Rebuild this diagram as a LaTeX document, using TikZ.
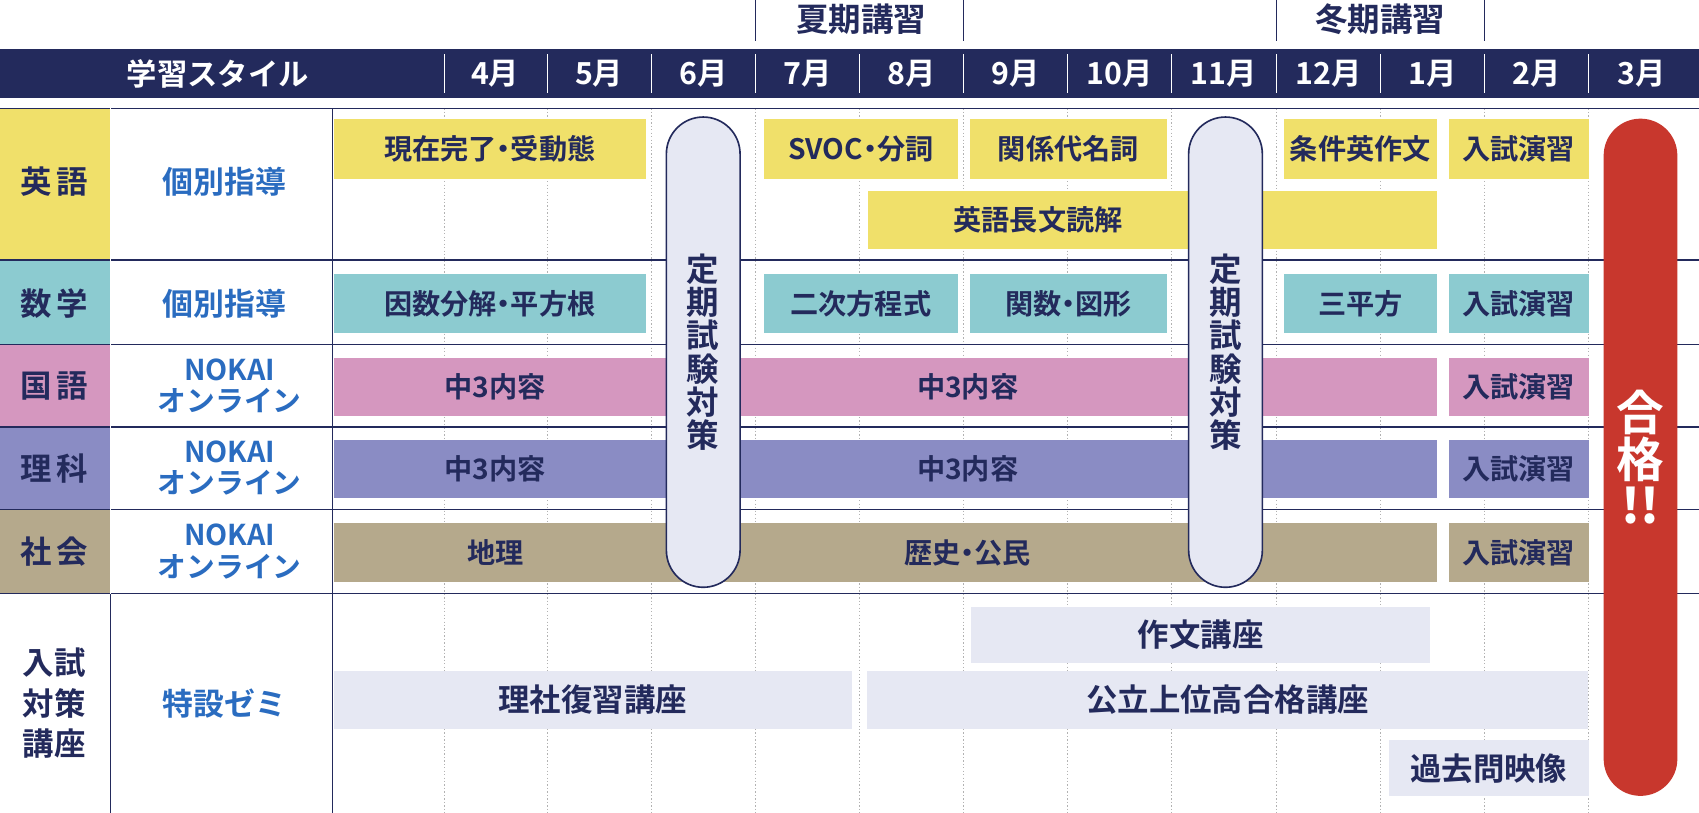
\documentclass[tikz,border=0pt]{standalone}
\usepackage{fontspec}
\setmainfont{Noto Sans CJK JP}[BoldFont={Noto Sans CJK JP Bold}]
\begin{document}
\definecolor{navy}{HTML}{232A5C}
\definecolor{eng}{HTML}{F0E06A}
\definecolor{math}{HTML}{8CCBD0}
\definecolor{jpn}{HTML}{D597BF}
\definecolor{sci}{HTML}{8A8CC4}
\definecolor{soc}{HTML}{B5A98C}
\definecolor{lav}{HTML}{E6E8F3}
\definecolor{blu}{HTML}{2A6CC0}
\definecolor{red}{HTML}{C8372D}
\newcommand\dt{\kern-0.25em・\kern-0.25em}
\newcommand\mybar[7]{\node[bar,fill=#6,minimum width=#3pt-#2pt,minimum height=#5pt-#4pt] (#1) at ({(#2+#3)/2},{(#4+#5)/2}) {#7};}
\begin{tikzpicture}[x=1pt,y=-1pt,
  bar/.style={draw=none,inner sep=0,font=\bfseries\fontsize{26}{28}\selectfont,text=navy},
  ex/.style={bar,font=\bfseries\fontsize{29}{31}\selectfont},
  lbl/.style={font=\bfseries\fontsize{26}{28}\selectfont,text=navy,inner sep=0},
  top/.style={font=\bfseries\fontsize{30}{32}\selectfont,text=navy,inner sep=0},
  sub/.style={font=\bfseries\fontsize{29}{37.5}\selectfont,text=navy,align=center,inner sep=0},
  sty/.style={font=\bfseries\fontsize{28.5}{29}\selectfont,text=blu,align=center,inner sep=0},
  sty2/.style={font=\bfseries\fontsize{26.5}{29}\selectfont,text=blu,align=center,inner sep=0},
  hd/.style={font=\bfseries\fontsize{28}{30}\selectfont,text=white,inner sep=0},
  pill/.style={draw=navy,line width=1.5pt,fill=lav,rounded corners=34pt,inner sep=0,minimum width=68pt,minimum height=434pt,font=\bfseries\fontsize{30}{30.5}\selectfont,text=navy,align=center},
  rowline/.style={navy,line width=1.2pt},
  grid/.style={gray!60,dotted,line width=1.2pt}]
\useasboundingbox (0,0) rectangle (1568,750);
\fill[white] (0,0) rectangle (1568,750);
% top labels
\draw[navy,line width=1pt] (697,0) coordinate (s1) -- (697,38) coordinate (s1b);
\draw[navy,line width=1pt] (889,0) coordinate (s2) -- (889,38) coordinate (s2b);
\draw[navy,line width=1pt] (1178,0) coordinate (w1) -- (1178,38) coordinate (w1b);
\draw[navy,line width=1pt] (1370,0) coordinate (w2) -- (1370,38) coordinate (w2b);
\node[top] (summer) at (795,18) {夏期講習};
\node[top] (winter) at (1274,18) {冬期講習};
% header
\fill[navy] (0,45) rectangle (1568,90);
\node[hd] (hstyle) at (201,68) {学習スタイル};
\foreach \x in {410,505,601,697,793,889,985,1081,1178,1274,1370,1466}
  \draw[white,line width=1pt] (\x,50) -- (\x,86);
\foreach \m/\x in {4月/457,5月/553,6月/649,7月/745,8月/841,9月/937,10月/1033,11月/1129,12月/1226,1月/1322,2月/1418,3月/1515}
  \node[hd] (h\x) at (\x,68) {\m};
% left column
\fill[eng] (0,100) rectangle (102,240);
\fill[math] (0,240) rectangle (102,318);
\fill[jpn] (0,318) rectangle (102,394);
\fill[sci] (0,394) rectangle (102,470);
\fill[soc] (0,470) rectangle (102,548);
\node[sub] (s-eng) at (50,168) {英\,語};
\node[sub] (s-math) at (50,280) {数\,学};
\node[sub] (s-jpn) at (50,356) {国\,語};
\node[sub] (s-sci) at (50,432) {理\,科};
\node[sub] (s-soc) at (50,509) {社\,会};
\node[sub] (s-ex) at (50,649) {入試\\対策\\講座};
\node[sty] (t-eng) at (207,168) {個別指導};
\node[sty] (t-math) at (207,280) {個別指導};
\node[sty2] (t-jpn) at (212,356) {NOKAI\\オンライン};
\node[sty2] (t-sci) at (212,432) {NOKAI\\オンライン};
\node[sty2] (t-soc) at (212,509) {NOKAI\\オンライン};
\node[sty] (t-ex) at (207,649) {特設ゼミ};
% grid
\foreach \x in {410,505,601,697,793,889,985,1081,1178,1274,1370,1466}
  \draw[grid] (\x,100) -- (\x,750);
\foreach \y in {100,240,318,394,470,548}
  \draw[rowline] (0,\y) -- (1568,\y);
\draw[rowline] (102,100) -- (102,750);
\draw[rowline] (307,100) -- (307,750);
\draw[white,line width=1.5pt] (102,100) -- (102,548);
% English
\mybar{e1}{308}{596}{110}{165}{eng}{現在完了\dt 受動態}
\mybar{e2}{705}{884}{110}{165}{eng}{SVOC\dt 分詞}
\mybar{e3}{895}{1077}{110}{165}{eng}{関係代名詞}
\mybar{e4}{1185}{1326}{110}{165}{eng}{条件英作文}
\mybar{e5}{1337}{1466}{110}{165}{eng}{入試演習}
\mybar{e6}{801}{1326}{176}{230}{eng}{}
\node[lbl] (e6t) at (958,203) {英語長文読解};
% Math
\mybar{m1}{308}{596}{253}{307}{math}{因数分解\dt 平方根}
\mybar{m2}{705}{884}{253}{307}{math}{二次方程式}
\mybar{m3}{895}{1077}{253}{307}{math}{関数\dt 図形}
\mybar{m4}{1185}{1326}{253}{307}{math}{三平方}
\mybar{m5}{1337}{1466}{253}{307}{math}{入試演習}
% Japanese
\mybar{j1}{308}{1326}{330}{384}{jpn}{}
\mybar{j2}{1337}{1466}{330}{384}{jpn}{入試演習}
\node[lbl] (j1a) at (457,357) {中3内容};
\node[lbl] (j1b) at (893,357) {中3内容};
% Science
\mybar{r1}{308}{1326}{406}{460}{sci}{}
\mybar{r2}{1337}{1466}{406}{460}{sci}{入試演習}
\node[lbl] (r1a) at (457,433) {中3内容};
\node[lbl] (r1b) at (893,433) {中3内容};
% Social
\mybar{c1}{308}{1326}{483}{537}{soc}{}
\mybar{c2}{1337}{1466}{483}{537}{soc}{入試演習}
\node[lbl] (c1a) at (457,510) {地理};
\node[lbl] (c1b) at (893,510) {歴史\dt 公民};
% pills
\node[pill] (p1) at (649,325) {定\\期\\試\\験\\対\\策};
\node[pill] (p2) at (1131,325) {定\\期\\試\\験\\対\\策};
% exam
\node[ex,fill=lav,minimum width=424pt,minimum height=52pt] (x1) at (1108,586) {作文講座};
\node[ex,fill=lav,minimum width=478pt,minimum height=53pt] (x2) at (547,646) {理社復習講座};
\node[ex,fill=lav,minimum width=665pt,minimum height=53pt] (x3) at (1133,646) {公立上位高合格講座};
\node[ex,fill=lav,minimum width=184pt,minimum height=52pt] (x4) at (1374,709) {過去問映像};
% pass
\node[fill=red,rounded corners=34pt,minimum width=68pt,minimum height=625pt,inner sep=0,text=white,
  font=\bfseries\fontsize{44}{43}\selectfont,align=center] (pass) at (1514,422) {合\\格\\\textit{!!}};
\end{tikzpicture}
\end{document}
